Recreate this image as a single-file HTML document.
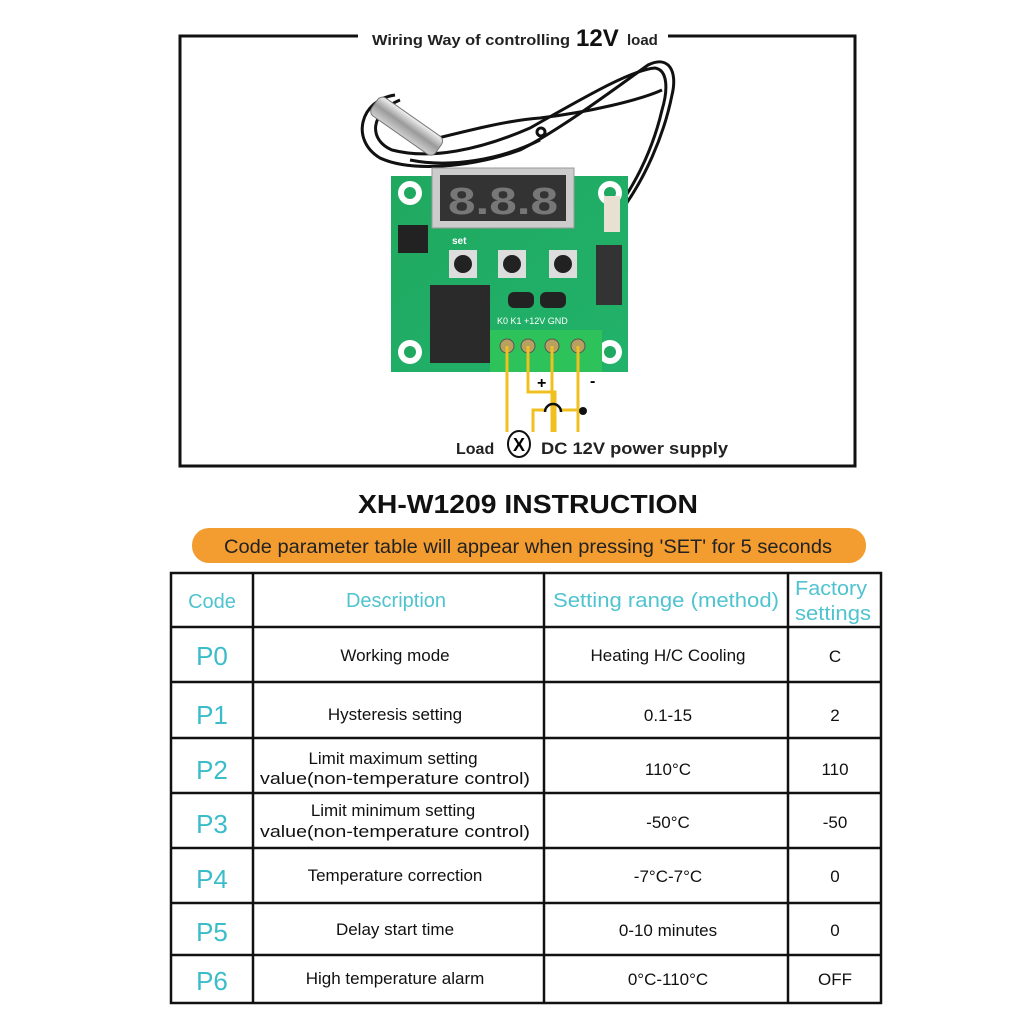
<!DOCTYPE html>
<html><head><meta charset="utf-8"><style>
html,body{margin:0;padding:0;background:#fff;}
svg{display:block;font-family:"Liberation Sans",sans-serif;}
</style></head><body>
<svg width="1024" height="1024" viewBox="0 0 1024 1024" xmlns="http://www.w3.org/2000/svg">
<rect width="1024" height="1024" fill="#fff"/>
<path d="M358 36 H180 V466 H855 V36 H668" fill="none" stroke="#111" stroke-width="3"/>
<text x="372" y="45" font-size="15" font-weight="bold" fill="#222" textLength="198" lengthAdjust="spacingAndGlyphs">Wiring Way of controlling</text>
<text x="576" y="46" font-size="24" font-weight="bold" fill="#111">12V</text>
<text x="627" y="45" font-size="15" font-weight="bold" fill="#222">load</text>

<defs><linearGradient id="steel" x1="0" y1="0" x2="0" y2="1"><stop offset="0" stop-color="#f4f4f4"/><stop offset=".5" stop-color="#9a9a9a"/><stop offset="1" stop-color="#d0d0d0"/></linearGradient>
<linearGradient id="pcb" x1="0" y1="0" x2="1" y2="1"><stop offset="0" stop-color="#1fa860"/><stop offset="1" stop-color="#22b26a"/></linearGradient></defs>
<g fill="none" stroke="#111" stroke-width="3">
<path d="M395 95 C360 100 350 140 380 158 C410 172 470 168 520 150 C560 130 620 85 648 65 C668 55 678 70 672 95 C664 135 645 180 618 215"/>
<path d="M400 100 C370 112 368 140 392 150 C430 160 480 150 530 128 C580 100 630 70 655 68 C668 70 668 90 662 110 C655 140 640 180 612 215"/>
<path d="M430 140 C470 130 510 120 540 118 C590 112 640 100 662 90"/>
<path d="M410 160 C450 168 500 160 540 140"/>
</g>
<circle cx="541" cy="132" r="4" fill="none" stroke="#111" stroke-width="3"/>
<g transform="rotate(35 405 125)"><rect x="368" y="114" width="78" height="22" rx="6" fill="url(#steel)" stroke="#777"/></g>

<rect x="391" y="176" width="237" height="196" fill="url(#pcb)"/>
<g fill="#fff"><circle cx="410" cy="193" r="12"/><circle cx="610" cy="193" r="12"/><circle cx="410" cy="352" r="12"/><circle cx="610" cy="352" r="12"/></g>
<g fill="#1fa860"><circle cx="410" cy="193" r="6"/><circle cx="610" cy="193" r="6"/><circle cx="410" cy="352" r="6"/><circle cx="610" cy="352" r="6"/></g>
<rect x="432" y="168" width="142" height="60" fill="#ccc" stroke="#999"/>
<rect x="440" y="175" width="126" height="46" fill="#333"/>
<text x="448" y="214" font-size="38" fill="#777" font-weight="bold" textLength="110" lengthAdjust="spacingAndGlyphs">8.8.8</text>
<rect x="398" y="225" width="30" height="28" fill="#222"/>
<g fill="#ddd"><rect x="449" y="250" width="28" height="28"/><rect x="498" y="250" width="28" height="28"/><rect x="549" y="250" width="28" height="28"/></g>
<g fill="#222"><circle cx="463" cy="264" r="9"/><circle cx="512" cy="264" r="9"/><circle cx="563" cy="264" r="9"/></g>
<text x="452" y="244" font-size="10" font-weight="bold" fill="#fff">set</text>
<rect x="430" y="285" width="60" height="78" fill="#2a2a2a"/>
<rect x="508" y="292" width="26" height="16" rx="6" fill="#222"/><rect x="540" y="292" width="26" height="16" rx="6" fill="#222"/>
<rect x="596" y="245" width="26" height="60" fill="#333"/>
<rect x="604" y="196" width="16" height="36" fill="#e8e0d0"/>
<text x="497" y="324" font-size="9" fill="#fff">K0  K1 +12V GND</text>
<rect x="490" y="330" width="112" height="42" fill="#2ec25a"/>
<g fill="#b8a060" stroke="#555"><circle cx="507" cy="346" r="7"/><circle cx="528" cy="346" r="7"/><circle cx="552" cy="346" r="7"/><circle cx="578" cy="346" r="7"/></g>
<g fill="none" stroke="#f0c020" stroke-width="3">
<path d="M507 346 V432"/>
<path d="M528 346 V392 H555 V432"/>
<path d="M552 346 V432"/>
<path d="M578 346 V432"/>
<path d="M533 432 V410 H546 M560 410 H583"/>
</g>
<path d="M545 412 A8 8 0 0 1 561 412" fill="none" stroke="#111" stroke-width="2.5"/>
<circle cx="583" cy="411" r="4" fill="#111"/>
<text x="537" y="388" font-size="16" font-weight="bold">+</text>
<text x="590" y="386" font-size="16" font-weight="bold">-</text>
<text x="456" y="454" font-size="16" font-weight="bold" fill="#222">Load</text>
<ellipse cx="519" cy="444" rx="11" ry="13" fill="#fff" stroke="#111" stroke-width="2"/>
<text x="519" y="451" font-size="18" text-anchor="middle" font-weight="bold">X</text>
<text x="541" y="454" font-size="17" font-weight="bold" fill="#222" textLength="187" lengthAdjust="spacingAndGlyphs">DC 12V power supply</text>

<text x="528" y="513" font-size="26" font-weight="bold" text-anchor="middle" fill="#111" textLength="340" lengthAdjust="spacingAndGlyphs">XH-W1209 INSTRUCTION</text>
<rect x="192" y="528" width="674" height="35" rx="17" fill="#f39c2f"/>
<text x="528" y="553" font-size="19" text-anchor="middle" fill="#222" textLength="608" lengthAdjust="spacingAndGlyphs">Code parameter table will appear when pressing 'SET' for 5 seconds</text>

<g stroke="#111" stroke-width="2.5" fill="none">
<rect x="171" y="573" width="710" height="430"/>
<path d="M253 573 V1003 M544 573 V1003 M788 573 V1003"/>
<path d="M171 627 H881 M171 682 H881 M171 738 H881 M171 793 H881 M171 848 H881 M171 903 H881 M171 955 H881"/>
</g>
<g fill="#4fc3cf" font-size="20" text-anchor="middle">
<text x="212" y="608">Code</text>
<text x="396" y="607">Description</text>
<text x="666" y="607" textLength="226" lengthAdjust="spacingAndGlyphs">Setting range (method)</text>
<text x="831" y="595" textLength="72" lengthAdjust="spacingAndGlyphs">Factory</text>
<text x="833" y="620" textLength="76" lengthAdjust="spacingAndGlyphs">settings</text>
</g>
<g fill="#3bbcc9" font-size="26" text-anchor="middle">
<text x="212" y="665">P0</text><text x="212" y="724">P1</text><text x="212" y="779">P2</text>
<text x="212" y="833">P3</text><text x="212" y="888">P4</text><text x="212" y="941">P5</text><text x="212" y="990">P6</text>
</g>
<g fill="#111" font-size="17" text-anchor="middle">
<text x="395" y="661">Working mode</text>
<text x="668" y="661">Heating H/C Cooling</text>
<text x="835" y="662">C</text>
<text x="395" y="720">Hysteresis setting</text>
<text x="668" y="721">0.1-15</text>
<text x="835" y="721">2</text>
<text x="393" y="764">Limit maximum setting</text>
<text x="395" y="784" textLength="270" lengthAdjust="spacingAndGlyphs">value(non-temperature control)</text>
<text x="668" y="775">110°C</text>
<text x="835" y="775">110</text>
<text x="393" y="816">Limit minimum setting</text>
<text x="395" y="837" textLength="270" lengthAdjust="spacingAndGlyphs">value(non-temperature control)</text>
<text x="668" y="828">-50°C</text>
<text x="835" y="828">-50</text>
<text x="395" y="881">Temperature correction</text>
<text x="668" y="882">-7°C-7°C</text>
<text x="835" y="882">0</text>
<text x="395" y="935">Delay start time</text>
<text x="668" y="936">0-10 minutes</text>
<text x="835" y="936">0</text>
<text x="395" y="984">High temperature alarm</text>
<text x="668" y="985">0°C-110°C</text>
<text x="835" y="985">OFF</text>
</g>
</svg>
</body></html>
